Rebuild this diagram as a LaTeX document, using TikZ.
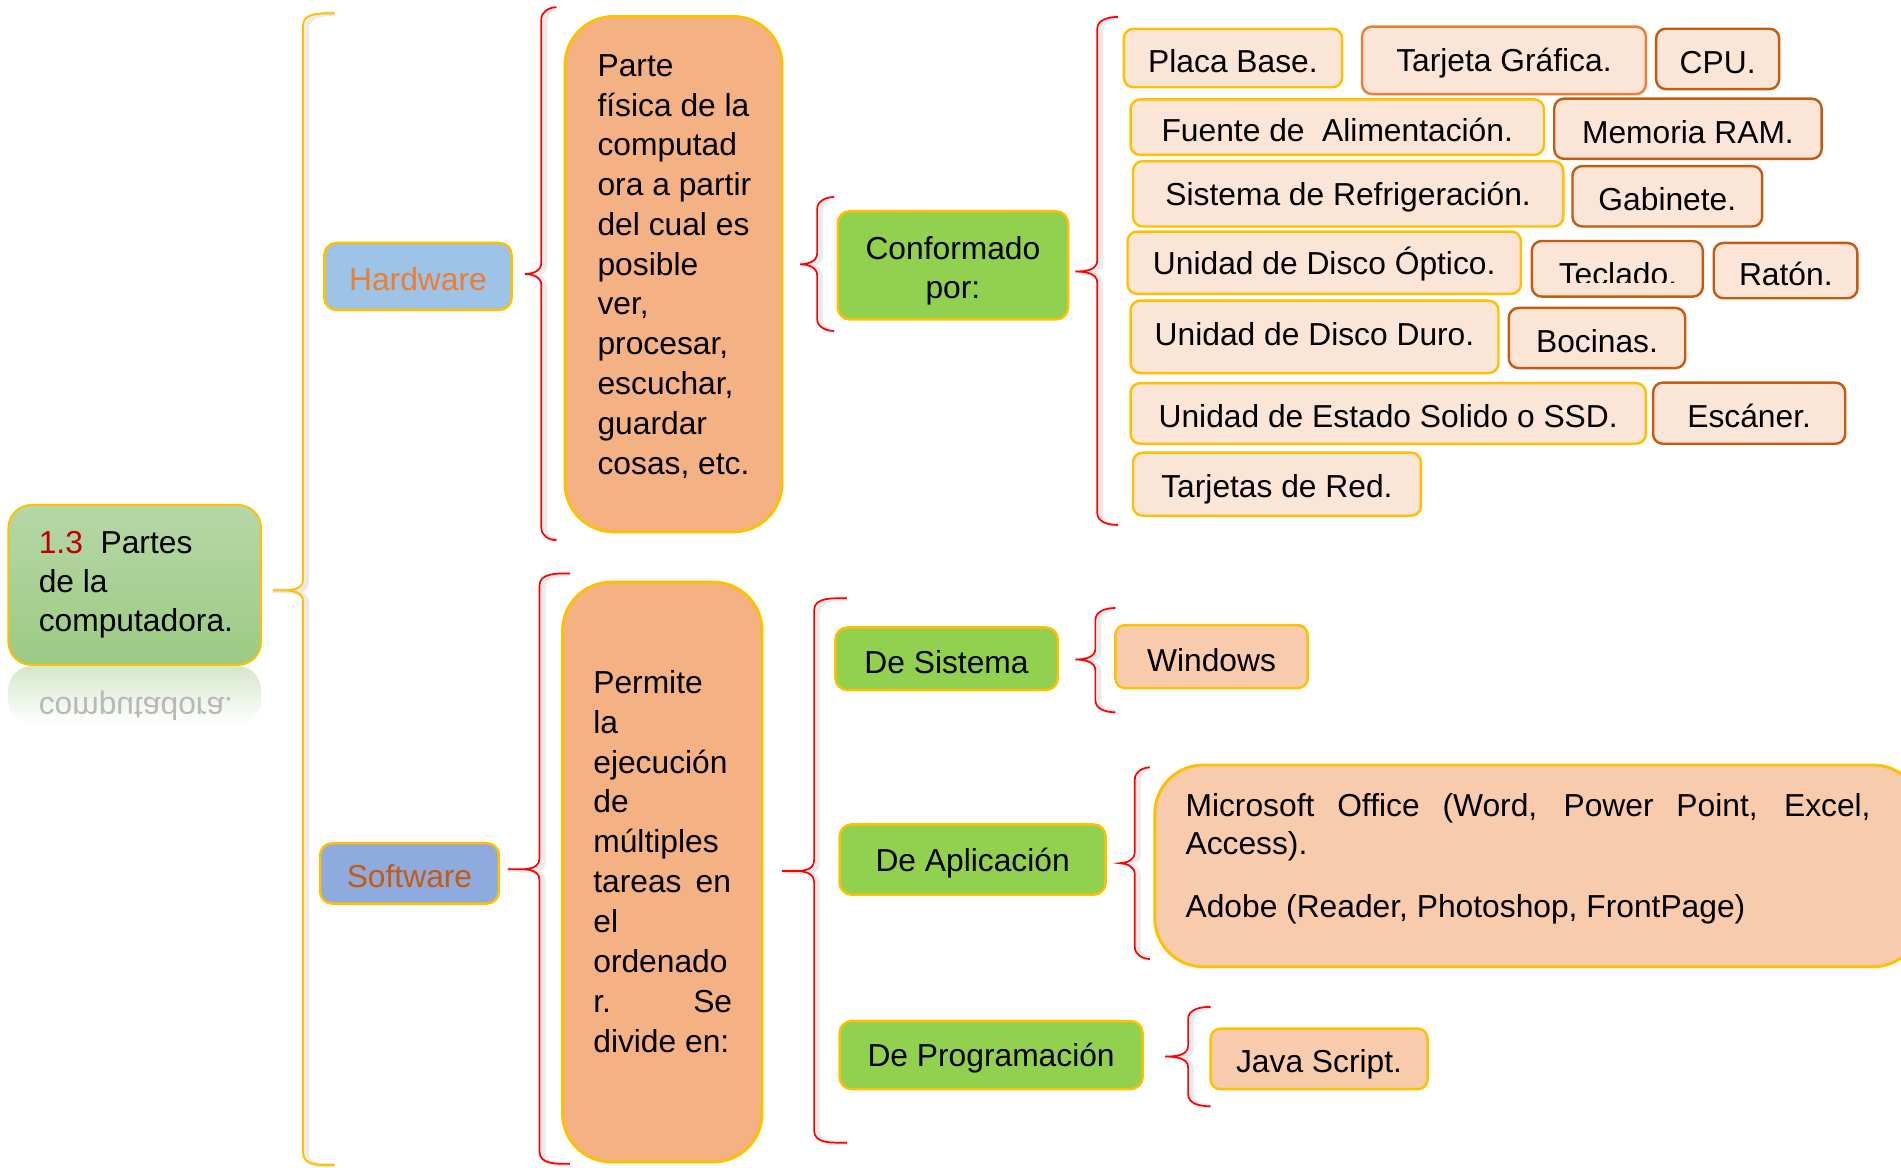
\documentclass[tikz,border=0pt]{standalone}
\usepackage{fontspec}
\setmainfont{Liberation Sans}
\usetikzlibrary{fit}
\definecolor{Gold}{HTML}{FFC000}
\definecolor{DkOrange}{HTML}{C55A11}
\definecolor{MdOrange}{HTML}{ED7D31}
\definecolor{CompFill}{HTML}{FBE5D6}
\definecolor{LeafFill}{HTML}{F8CBAD}
\definecolor{DescFill}{HTML}{F4B183}
\definecolor{GreenFill}{HTML}{92D050}
\definecolor{HwFill}{HTML}{9DC3E6}
\definecolor{SwFill}{HTML}{8FAADC}
\definecolor{HwText}{HTML}{ED7D31}
\definecolor{SwText}{HTML}{C55A11}
\definecolor{RootTop}{HTML}{B6D7A8}
\definecolor{RootBot}{HTML}{9CCA82}
\definecolor{ReflTop}{HTML}{D6E7CB}
\definecolor{DkRed}{HTML}{C00000}
\definecolor{BrRed}{HTML}{FF0000}
\newcommand{\curlybrace}[8]{% name, style, xv, ytop, ybot, xend, xtip, ytip
  \coordinate (#1-top) at (#6,#4);
  \coordinate (#1-tip) at (#7,#8);
  \coordinate (#1-bot) at (#6,#5);
  \draw[brS, xshift=1.5pt, yshift=-1pt] (#1-top) to[out=180,in=90] (#3,#4+10) -- (#3,#8-9) to[out=-90,in=0] (#1-tip) to[out=0,in=90] (#3,#8+9) -- (#3,#5-10) to[out=-90,in=180] (#1-bot);
  \draw[#2] (#1-top) to[out=180,in=90] (#3,#4+10) -- (#3,#8-9) to[out=-90,in=0] (#1-tip) to[out=0,in=90] (#3,#8+9) -- (#3,#5-10) to[out=-90,in=180] (#1-bot);
}
\begin{document}
\begin{tikzpicture}[x=0.5pt,y=-0.5pt,
  every node/.style={font=\fontsize{13.1}{16.4}\selectfont},
  box/.style={rounded corners=4pt, line width=1pt, inner sep=0pt},
  comp/.style={box, fill=CompFill, draw=Gold},
  compd/.style={box, fill=CompFill, draw=DkOrange},
  compm/.style={box, fill=CompFill, draw=MdOrange},
  leaf/.style={box, fill=LeafFill, draw=Gold},
  grn/.style={box, rounded corners=5pt, fill=GreenFill, draw=Gold},
  desc/.style={box, rounded corners=20pt, fill=DescFill, draw=Gold, line width=1.2pt},
  txt/.style={anchor=base west, inner sep=0pt},
  lbl/.style={inner sep=0pt, yshift=-1.3pt},
  brY/.style={draw=Gold, line width=0.8pt},
  brR/.style={draw=BrRed, line width=0.7pt},
  brS/.style={draw=black!8, line width=2pt},
]
\useasboundingbox (0,0) rectangle (1568,962.6);

% root
\shade[rounded corners=9.5pt, top color=ReflTop, bottom color=white] (6.9,549.5) rectangle (215.3,597);
\node[txt, yscale=-1, text=black!28] (rootrefl) at (31.6,575.5) {computadora.};
\node[fit={(6.9,416.5) (215.3,548.5)}, inner sep=0pt, rounded corners=9.5pt, draw=Gold, line width=0.8pt, top color=RootTop, bottom color=RootBot] (root) {};
\node[txt] (rt0) at (31.6,456.4) {\textcolor{DkRed}{1.3}\ \ Partes};
\node[txt] (rt1) at (31.6,488.8) {de la};
\node[txt] (rt2) at (31.6,521) {computadora.};

% level 1
\node[box, rounded corners=5pt, fill=HwFill, draw=Gold, fit={(267.5,200.4) (422,255.6)}] (hw) {};
\node[lbl, text=HwText] (hw-t) at (hw) {Hardware};
\node[box, rounded corners=5pt, fill=SwFill, draw=Gold, fit={(264,695.5) (411.5,745.3)}] (sw) {};
\node[lbl, text=SwText] (sw-t) at (sw) {Software};

% descriptions
\node[desc, fit={(466,13.6) (645,438.7)}] (hwdesc) {};
\foreach \t [count=\i from 0] in {Parte,{física de la},computad,{ora a partir},{del cual es},posible,{ver,},{procesar,},{escuchar,},guardar,{cosas, etc.}}
  \node[txt] (hwl\i) at (492.5,63+32.8*\i) {\t};

\node[desc, fit={(464,480.2) (628.5,958.4)}] (swdesc) {};
\foreach \t [count=\i from 0] in {Permite,la,ejecución,de,múltiples,{\makebox[56.75pt][s]{tareas en}},el,ordenado,{\makebox[57.25pt][s]{r. Se}},{divide en:}}
  \node[txt] (swl\i) at (489,571.7+32.95*\i) {\t};

% conformado
\node[grn, fit={(691,174.2) (881,263.5)}] (conf) {};
\node[lbl, align=center, yshift=-1pt] (conf-t) at (conf.center) {Conformado\\por:};

% components
\node[comp, fit={(927,23.7) (1107,72)}] (placa) {};
\node[lbl] (placa-t) at (placa) {Placa Base.};
\node[compm, fit={(1123.5,22) (1357.5,77.6)}] (grafica) {};
\node[lbl] (grafica-t) at (grafica) {Tarjeta Gráfica.};
\node[compd, fit={(1366,23.7) (1467.5,73.5)}] (cpu) {};
\node[lbl] (cpu-t) at (cpu) {CPU.};
\node[comp, fit={(932.5,82) (1273.5,127.8)}] (fuente) {};
\node[lbl] (fuente-t) at (fuente) {Fuente de\ \ Alimentación.};
\node[compd, fit={(1282,81.4) (1502.5,131)}] (ram) {};
\node[lbl] (ram-t) at (ram) {Memoria RAM.};
\node[comp, fit={(934.5,133) (1289.5,186.8)}] (refri) {};
\node[lbl] (refri-t) at (refri) {Sistema de Refrigeración.};
\node[compd, fit={(1297,137) (1453.5,186.8)}] (gabinete) {};
\node[lbl] (gabinete-t) at (gabinete) {Gabinete.};
\node[comp, fit={(930,191) (1254.5,242.4)}] (optico) {};
\node[lbl, yshift=0.6pt] (optico-t) at (optico) {Unidad de Disco Óptico.};
\node[compd, fit={(1263.5,198.8) (1404.5,244.6)}] (teclado) {};
\begin{scope}
  \clip (1263.5,198.8) rectangle (1404.5,233.3);
  \node[anchor=base, inner sep=0pt] (teclado-t) at (1334.5,235.5) {Teclado.};
\end{scope}
\node[compd, fit={(1413.5,200.4) (1532,246)}] (raton) {};
\node[anchor=base, inner sep=0pt] (raton-t) at (1473,235.5) {Ratón.};
\node[comp, fit={(932.5,248) (1236,307.7)}] (duro) {};
\node[lbl, yshift=2.3pt] (duro-t) at (duro) {Unidad de Disco Duro.};
\node[compd, fit={(1244.5,254) (1390,303.6)}] (bocinas) {};
\node[lbl] (bocinas-t) at (bocinas) {Bocinas.};
\node[comp, fit={(932.5,316) (1357.5,366)}] (ssd) {};
\node[lbl] (ssd-t) at (ssd) {Unidad de Estado Solido o SSD.};
\node[compd, fit={(1363.5,315.6) (1522,366)}] (escaner) {};
\node[lbl] (escaner-t) at (escaner) {Escáner.};
\node[comp, fit={(934.5,373.4) (1172,425.4)}] (red) {};
\node[lbl, yshift=-0.7pt] (red-t) at (red) {Tarjetas de Red.};

% software categories
\node[grn, fit={(689,517.5) (872.5,569.2)}] (desis) {};
\node[lbl] (desis-t) at (desis) {De Sistema};
\node[grn, fit={(692.5,680) (912,738)}] (deapl) {};
\node[lbl] (deapl-t) at (deapl) {De Aplicación};
\node[grn, fit={(692.5,842.2) (942.5,898.4)}] (deprog) {};
\node[lbl] (deprog-t) at (deprog) {De Programación};

\node[leaf, fit={(920,515.6) (1078.5,567.6)}] (windows) {};
\node[lbl] (windows-t) at (windows) {Windows};
\node[desc, fill=LeafFill, fit={(952.5,631) (1585,797.4)}] (apl) {};
\node[txt] (apl1) at (977.5,673.3) {\makebox[282.5pt][s]{Microsoft Office (Word, Power Point, Excel,}};
\node[txt] (apl2) at (977.5,705.2) {Access).};
\node[txt] (apl3) at (977.5,756.9) {Adobe (Reader, Photoshop, FrontPage)};
\node[leaf, fit={(998.5,848.5) (1177.5,898.4)}] (java) {};
\node[lbl, yshift=-0.8pt] (java-t) at (java) {Java Script.};

% braces
\curlybrace{b0}{brY}{250}{11}{961}{276}{225}{487}
\curlybrace{b1}{brR}{446.5}{6}{445.5}{459}{433}{226}
\curlybrace{b2}{brR}{674}{162.5}{273}{688}{660}{218}
\curlybrace{b3}{brR}{905}{14}{433}{922}{887}{224}
\curlybrace{b4}{brR}{445}{473}{960}{470}{419}{717}
\curlybrace{b5}{brR}{671.5}{493.5}{942.5}{698.5}{645}{718.5}
\curlybrace{b6}{brR}{903.5}{501.5}{587.5}{920}{887}{544}
\curlybrace{b7}{brR}{936}{633}{791}{948.5}{923.5}{712}
\curlybrace{b8}{brR}{980}{830.5}{912.5}{998.5}{961}{871.5}
\end{tikzpicture}
\end{document}
